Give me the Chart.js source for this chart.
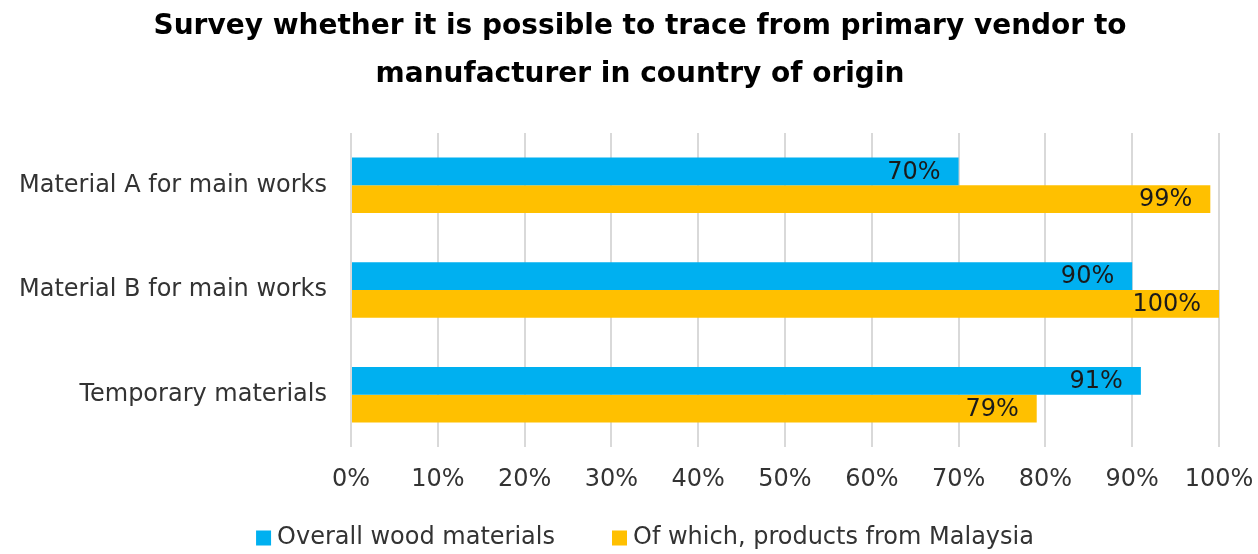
<!DOCTYPE html>
<html>
<head>
<meta charset="utf-8">
<script src="https://cdn.jsdelivr.net/npm/chart.js@4/dist/chart.umd.min.js"></script>
<style>
  html, body { margin: 0; padding: 0; background: #fff; }
  #wrap { width: 1258px; height: 554px; }
</style>
</head>
<body>
<div id="wrap"><canvas id="surveyChart"></canvas></div>
<script>
const titleLines = ['Survey whether it is possible to trace from primary vendor to', 'manufacturer in country of origin']
const categories = ['Material A for main works', 'Material B for main works', 'Temporary materials']
const overallWood = [70, 90, 91]
const malaysiaProducts = [99, 100, 79]
const xTicks = [0, 10, 20, 30, 40, 50, 60, 70, 80, 90, 100]

const FONT = '"DejaVu Sans", Verdana, sans-serif'
const TEXT_COLOR = '#333'

// draws "70%" etc just inside the end of each bar
const insideEndLabels = {
    id: 'insideEndLabels',
    afterDatasetsDraw: (chart) => {
        const {ctx} = chart
        ctx.save()
        ctx.font = '24px ' + FONT
        ctx.fillStyle = '#1a1a1a'
        ctx.textAlign = 'right'
        ctx.textBaseline = 'middle'
        chart.data.datasets.forEach((ds, i) => {
            chart.getDatasetMeta(i).data.forEach((bar, j) => {
                ctx.fillText(ds.data[j] + '%', bar.x - 18, bar.y + 1)
            })
        })
        ctx.restore()
    }
}

// title centred a bit off the canvas middle, like the original
const offsetTitle = {
    id: 'offsetTitle',
    afterDraw: (chart, args, opts) => {
        const {ctx} = chart
        ctx.save()
        ctx.font = 'bold 28px ' + FONT
        ctx.fillStyle = '#000'
        ctx.textAlign = 'center'
        ctx.textBaseline = 'middle'
        opts.lines.forEach((line, i) => {
            ctx.fillText(line, opts.centerX, opts.y + i * opts.lineGap)
        })
        ctx.restore()
    }
}

// excel-like legend at the bottom
const bottomLegend = {
    id: 'bottomLegend',
    afterDraw: (chart, args, opts) => {
        const {ctx} = chart
        const box = 15, textGap = 6, itemGap = 57
        ctx.save()
        ctx.font = '24px ' + FONT
        ctx.textBaseline = 'middle'
        ctx.textAlign = 'left'
        const items = chart.data.datasets.map(ds => ({
            text: ds.label,
            color: ds.backgroundColor,
            w: box + textGap + ctx.measureText(ds.label).width
        }))
        const total = items.reduce((s, it) => s + it.w, 0) + itemGap * (items.length - 1)
        let x = opts.centerX - total / 2
        const y = opts.y
        items.forEach(it => {
            ctx.fillStyle = it.color
            ctx.fillRect(x, y - box / 2, box, box)
            ctx.fillStyle = TEXT_COLOR
            ctx.fillText(it.text, x + box + textGap, y)
            x += it.w + itemGap
        })
        ctx.restore()
    }
}

new Chart(document.getElementById('surveyChart'), {
    type: 'bar',
    data: {
        labels: categories,
        datasets: [
            {
                label: 'Overall wood materials',
                data: overallWood,
                backgroundColor: '#00B0F0',
                barPercentage: 1,
                categoryPercentage: 0.53
            },
            {
                label: 'Of which, products from Malaysia',
                data: malaysiaProducts,
                backgroundColor: '#FFC000',
                barPercentage: 1,
                categoryPercentage: 0.53
            }
        ]
    },
    options: {
        indexAxis: 'y',
        responsive: true,
        maintainAspectRatio: false,
        animation: false,
        layout: {
            padding: { left: 0, right: 39, top: 133, bottom: 42 }
        },
        plugins: {
            title: { display: false },
            legend: { display: false },
            offsetTitle: { lines: titleLines, centerX: 640, y: 27, lineGap: 48 },
            bottomLegend: { centerX: 645, y: 538 },
            tooltip: { enabled: false }
        },
        scales: {
            x: {
                min: 0,
                max: 100,
                afterBuildTicks: (scale) => {
                    scale.ticks = xTicks.map(v => ({ value: v }))
                },
                afterFit: (scale) => {
                    scale.paddingLeft = 0
                    scale.paddingRight = 0
                },
                grid: { color: '#d9d9d9', lineWidth: 2, drawTicks: false },
                border: { display: false },
                ticks: {
                    color: TEXT_COLOR,
                    padding: 18,
                    maxRotation: 0,
                    font: { family: FONT, size: 24 },
                    callback: (v) => v + '%'
                }
            },
            y: {
                afterFit: (scale) => { scale.width = 351 },
                grid: { display: false, drawTicks: false },
                border: { display: false },
                ticks: {
                    color: TEXT_COLOR,
                    padding: 24,
                    font: { family: FONT, size: 24 }
                }
            }
        }
    },
    plugins: [insideEndLabels, offsetTitle, bottomLegend]
})
</script>
</body>
</html>
